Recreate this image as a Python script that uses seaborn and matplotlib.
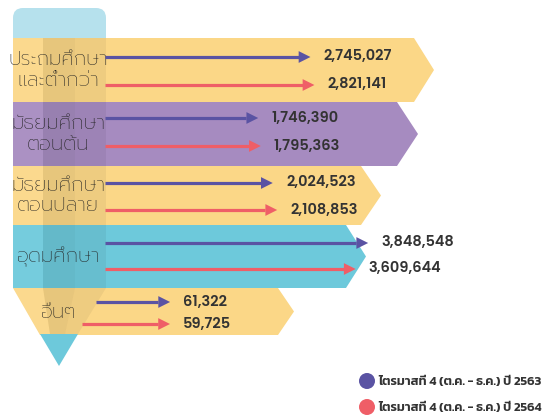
import matplotlib
matplotlib.use("Agg")
import matplotlib.pyplot as plt
from matplotlib.patches import Polygon, FancyBboxPatch, Circle
from matplotlib.transforms import ScaledTranslation
import seaborn as sns
import pandas as pd

# ---------------- data ----------------
categories = ["ประถมศึกษา\nและต่ำกว่า", "มัธยมศึกษา\nตอนต้น", "มัธยมศึกษา\nตอนปลาย",
              "อุดมศึกษา", "อื่นๆ"]
q4_2563 = [2745027, 1746390, 2024523, 3848548, 61322]
q4_2564 = [2821141, 1795363, 2108853, 3609644, 59725]
series_labels = ["ไตรมาสที่ 4 (ต.ค. - ธ.ค.) ปี 2563", "ไตรมาสที่ 4 (ต.ค. - ธ.ค.) ปี 2564"]

# ---------------- style / layout ----------------
sns.set_theme(style="white")
THAI = ["Prompt", "Kanit", "Loma", "DejaVu Sans"]
NUM = ["Poppins", "Prompt", "DejaVu Sans"]
plt.rcParams["font.family"] = THAI

series_colors = ["#5A53A3", "#EF5E67"]
band_colors = ["#FBD787", "#A68BC0", "#FBD787", "#6DC9DB", "#FBD787"]
band_top = [38, 102, 166, 225, 288]
band_bot = [102, 166, 225, 288, 335]
band_right = [414, 397, 361, 346, 278]
band_tip = [434, 418, 381, 366, 294]
row_y = [(57, 85), (118, 146), (183, 210), (243, 269), (302, 324)]
tail_px = [(105, 105), (105, 105), (105, 105), (105, 105), (96, 82)]
W, H = 542, 416
px_zero, px_per_million = 167.0, 52.3   # linear value axis placement

fig = plt.figure(figsize=(W / 100, H / 100), dpi=100)
deco = fig.add_axes([0, 0, 1, 1])
deco.set_xlim(0, W)
deco.set_ylim(H, 0)
deco.axis("off")

# bands (arrow shaped)
for i in range(5):
    t, b, r, tip = band_top[i], band_bot[i], band_right[i], band_tip[i]
    left_bottom = 40 if i == 4 else 13
    pts = [(13, t), (r, t), (tip, (t + b) / 2), (r, b), (left_bottom, b)]
    deco.add_patch(Polygon(pts, closed=True, fc=band_colors[i], ec="none", zorder=1))

# eraser
deco.add_patch(FancyBboxPatch((13, 8), 93, 40, boxstyle="round,pad=0,rounding_size=10",
                              fc="#B6E1ED", ec="none", zorder=0.5))
# pencil tip
deco.add_patch(Polygon([(40, 334), (78, 334), (59, 366)], closed=True,
                       fc="#6DC9DB", ec="none", zorder=1))
# pencil facets (shading)
facets = [
    ([(13, 38), (43, 38), (43, 288), (50, 334), (40, 334), (13, 288)], "white", 0.06),
    ([(43, 38), (75, 38), (75, 288), (65, 334), (50, 334), (43, 288)], "black", 0.08),
    ([(75, 38), (106, 38), (106, 288), (78, 334), (65, 334), (75, 288)], "black", 0.05),
]
for pts, c, a in facets:
    deco.add_patch(Polygon(pts, closed=True, fc=c, alpha=a, ec="none", zorder=2))

# category labels
for i, cat in enumerate(categories):
    yc = (band_top[i] + band_bot[i]) / 2 + (1.5 if i == 4 else 0)
    deco.text(58, yc, cat, ha="center", va="center", fontsize=14.5, fontweight="light",
              color="#222222", linespacing=1.1, zorder=5)

# ---------------- data axes ----------------
ax = fig.add_axes([0, 0, 1, 1], zorder=3)
ax.patch.set_alpha(0)
xmin = -px_zero / px_per_million
xmax = (W - px_zero) / px_per_million
ax.set_xlim(xmin, xmax)
ax.set_ylim(H, 0)


def px_to_val(px):
    return xmin + px / W * (xmax - xmin)


rows = []
for i, cat in enumerate(categories):
    for s, vals in enumerate([q4_2563, q4_2564]):
        rows.append(dict(cat=cat, series=series_labels[s], value=vals[i] / 1e6,
                         raw=vals[i], y=row_y[i][s], x0=px_to_val(tail_px[i][s])))
df = pd.DataFrame(rows)

head_len = 12  # px
pal = dict(zip(series_labels, series_colors))
for s in series_labels:
    d = df[df["series"] == s]
    ax.hlines(d["y"].to_numpy(), d["x0"].to_numpy(),
              d["value"].to_numpy() - head_len / px_per_million,
              color=pal[s], lw=2.3, zorder=3)
shift = ax.transData + ScaledTranslation(-head_len / 2 / 100, 0, fig.dpi_scale_trans)
sns.scatterplot(data=df, x="value", y="y", hue="series", palette=pal, marker=">",
                s=72, linewidth=0, legend=False, ax=ax, zorder=4, transform=shift)
ax.set_xlim(xmin, xmax)
ax.set_ylim(H, 0)
ax.axis("off")

for _, r in df.iterrows():
    ax.annotate(f"{r['raw']:,}", xy=(r["value"], r["y"]), xytext=(13, 0),
                textcoords="offset pixels", ha="left", va="center",
                fontsize=10.5, fontweight="semibold", family=NUM, color="#333333")

# legend
for k, lab in enumerate(series_labels):
    yy = 381 + 26 * k
    deco.add_patch(Circle((367, yy), 8, fc=series_colors[k], ec="none", zorder=5))
    deco.text(378, yy, lab, ha="left", va="center", fontsize=9.2, fontweight="semibold",
              family=["Kanit", "Prompt", "Loma", "DejaVu Sans"], color="#333333", zorder=5)

fig.savefig("out.png", dpi=100)
